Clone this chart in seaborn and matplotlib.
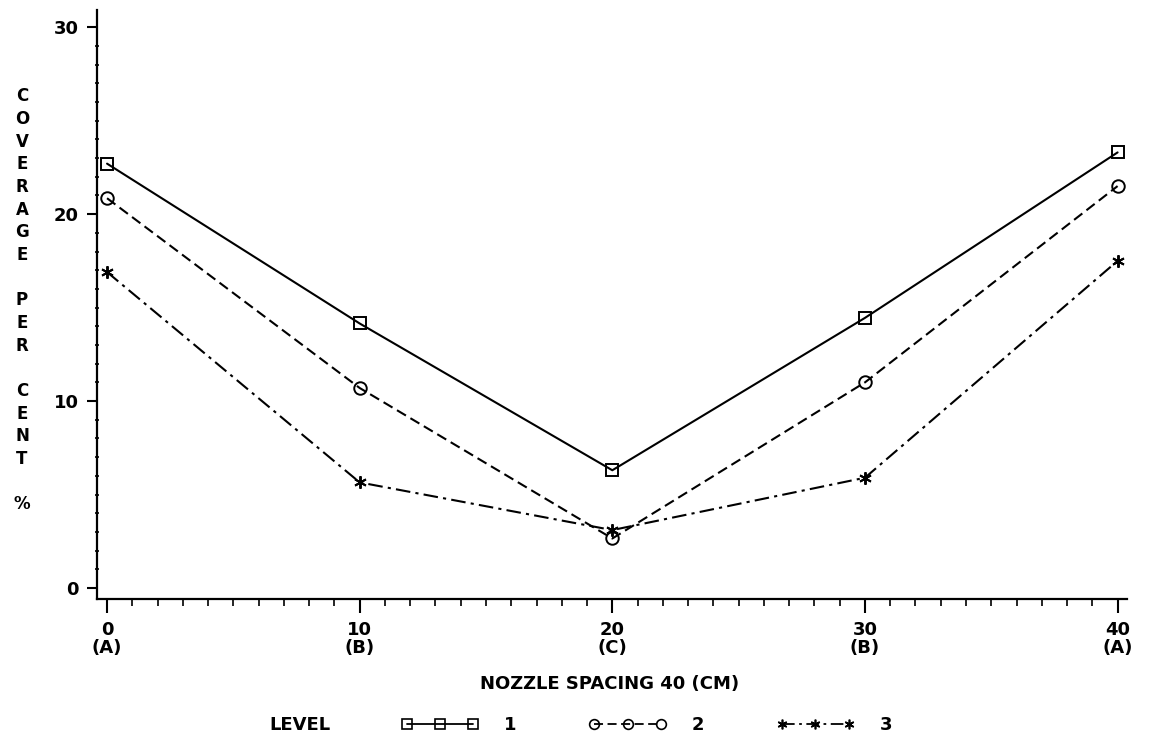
import matplotlib.pyplot as plt
import pandas as pd
import seaborn as sns
from matplotlib.ticker import MultipleLocator

# nozzle spacing (cm) and position code under each tick
spacing = [0, 10, 20, 30, 40]
position_codes = ["(A)", "(B)", "(C)", "(B)", "(A)"]

# coverage per cent for each level
level_1 = [22.7, 14.15, 6.3, 14.45, 23.3]
level_2 = [20.85, 10.7, 2.65, 11.0, 21.5]
level_3 = [16.9, 5.65, 3.1, 5.9, 17.5]
levels = ["1", "2", "3"]

y_letters = "COVERAGE PER CENT %"

rows = []
for lvl, vals in zip(levels, [level_1, level_2, level_3]):
    for x, y in zip(spacing, vals):
        rows.append({"spacing": x, "coverage": y, "level": lvl})
df = pd.DataFrame(rows)

sns.set_style("ticks")
plt.rcParams["font.family"] = ["DejaVu Sans", "DejaVu Sans Mono"]
# plotter output is pure black
for key in ["text.color", "axes.labelcolor", "xtick.color", "ytick.color"]:
    plt.rcParams[key] = "black"

fig = plt.figure(figsize=(11.57, 7.38), dpi=100)
ax = fig.add_axes([0.0838, 0.188, 0.890, 0.798])

ink = "black"
markers = {"1": "s", "2": "o", "3": (6, 2, 0)}
line_styles = {"1": "-", "2": (0, (5, 2.5)), "3": (0, (7, 2.5, 1.5, 2.5))}

for lvl in levels:
    sns.lineplot(
        data=df[df["level"] == lvl],
        x="spacing",
        y="coverage",
        color=ink,
        marker=markers[lvl],
        linestyle=line_styles[lvl],
        markersize=9,
        markerfacecolor="none",
        markeredgecolor=ink,
        markeredgewidth=1.4,
        linewidth=1.5,
        ax=ax,
    )

ax.set_xlim(-0.4, 40.36)
ax.set_ylim(-0.6, 30.9)
ax.xaxis.set_minor_locator(MultipleLocator(1))
ax.yaxis.set_minor_locator(MultipleLocator(1))
ax.set_xticks(spacing)
ax.set_xticklabels([f"{s}\n{c}" for s, c in zip(spacing, position_codes)],
                   fontsize=13, linespacing=1.0, weight="bold")
ax.set_yticks([0, 10, 20, 30])
ax.set_yticklabels(["0", "10", "20", "30"], fontsize=13, weight="bold")
ax.tick_params(axis="x", which="major", length=10, width=1.5, direction="out", pad=6)
ax.tick_params(axis="x", which="minor", length=5, width=1.2, direction="out")
ax.tick_params(axis="y", which="major", length=7, width=1.5, direction="out", pad=6)
ax.tick_params(axis="y", which="minor", length=3, width=1.2, direction="inout")
sns.despine(ax=ax)
for side in ["left", "bottom"]:
    ax.spines[side].set_linewidth(1.6)
    ax.spines[side].set_color(ink)

ax.set_xlabel("NOZZLE SPACING 40 (CM)", fontsize=13, weight="bold")
ax.xaxis.set_label_coords(0.498, -0.128)
ax.set_ylabel("")

# stacked vertical y label
fig.text(0.019, 0.593, "\n".join(y_letters), fontsize=12, ha="center",
         va="center", linespacing=1.333, weight="bold")

# legend row
fig.text(0.233, 0.0176, "LEVEL", fontsize=13, weight="bold", va="center")
handles = []
for lvl in levels:
    (h,) = ax.plot([], [], color=ink, marker=markers[lvl], markersize=7,
                   markerfacecolor="none", markeredgewidth=1.2,
                   linestyle=line_styles[lvl], linewidth=1.3)
    handles.append(h)
fig.legend(handles, levels, loc="center left", bbox_to_anchor=(0.339, 0.0176),
           ncol=3, frameon=False, numpoints=3, handlelength=4.3, borderpad=0,
           columnspacing=4.0, handletextpad=1.4, prop={"size": 13, "weight": "bold"})

fig.savefig("out.png", dpi=100)
